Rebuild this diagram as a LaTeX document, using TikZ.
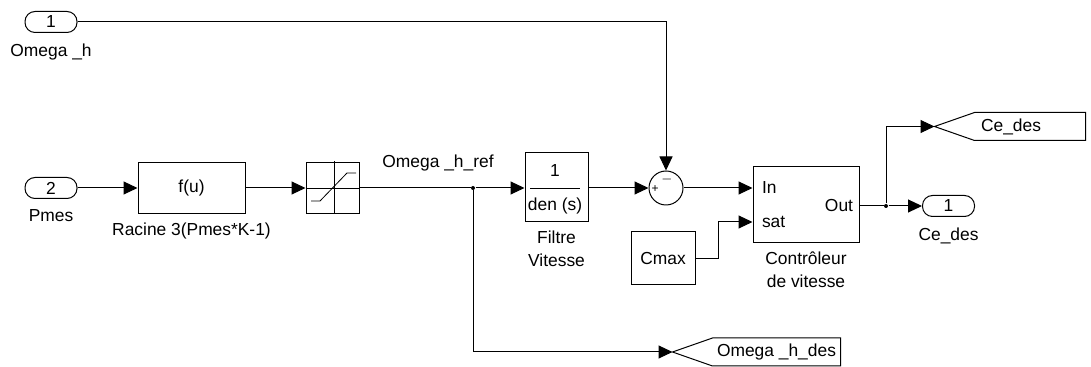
\documentclass[tikz,border=0pt]{standalone}
\usepackage{fontspec}
\setmainfont{Liberation Sans}
\usetikzlibrary{arrows.meta, positioning}

\begin{document}
\begin{tikzpicture}[x=0.5pt, y=-0.5pt, line width=0.5pt,
      >={Triangle[length=7pt,width=6.5pt]},
      every node/.style={font=\fontsize{8.7}{11.5}\selectfont},
      blk/.style={rectangle, draw, inner sep=0pt},
      port/.style={rectangle, draw, rounded corners=5pt, inner sep=0pt,
          minimum width=26pt, minimum height=10.5pt},
      gto/.style={rectangle, inner sep=0pt, minimum height=13.5pt},
      lbl/.style={inner sep=1pt, align=center},
      sgn/.style={inner sep=0pt, font=\fontsize{6}{7}\selectfont},
      jdot/.style={circle, fill, inner sep=0pt, minimum size=2pt}]
    \useasboundingbox (0,0) rectangle (1091,367);

    % entrees
    \node[port] (in1) at (51,22) {1};
    \node[lbl, below=4pt of in1] (in1l) {Omega \_h};
    \node[port] (in2) at (51,188) {2};
    \node[lbl, below=4pt of in2] (in2l) {Pmes};

    % racine et saturation
    \node[blk, minimum width=53.5pt, minimum height=25.5pt] (fu) at (191.5,188) {f(u)};
    \node[lbl, below=3pt of fu] (ful) {Racine 3(Pmes*K-1)};
    \node[blk, minimum width=26.5pt, minimum height=25.5pt] (sat) at (332.5,188) {};
    \draw[line width=0.4pt] (sat.west) -- (sat.east);
    \draw[line width=0.4pt] (334,161) -- (334,213);
    \draw[line width=0.4pt] (311,201) -- (320,201) -- (347,173) -- (356,173);

    \node[lbl] (refl) at (438,163) {Omega \_h\_ref};
    \node[jdot] (br1) at (473,188) {};

    % filtre
    \node[blk, minimum width=31.5pt, minimum height=34.5pt] (filt) at (556.5,187.5) {};
    \node[inner sep=0pt] (fnum) at (555,171) {1};
    \node[inner sep=0pt] (fden) at (555,206) {den (s)};
    \draw[line width=0.4pt] (530,188) -- (580,188);
    \node[lbl, below=3pt of filt] (filtl) {Filtre\\Vitesse};

    % sommateur
    \node[circle, draw, inner sep=0pt, minimum size=17pt] (sum) at (666,188) {};
    \node[sgn] (plus) at (655,189) {+};
    \node[sgn] (minus) at (667,180) {$-$};

    % controleur
    \node[blk, minimum width=53pt, minimum height=38pt] (ctrl) at (806,205) {};
    \node[inner sep=0pt, anchor=west] (pin) at ([xshift=4.5pt]ctrl.west |- sum) {In};
    \coordinate (satp) at (ctrl.west |- 0,222);
    \node[inner sep=0pt, anchor=west] (psat) at ([xshift=4.5pt]satp) {sat};
    \node[inner sep=0pt, anchor=east] (pout) at ([xshift=-3pt]ctrl.east |- 0,206) {Out};
    \node[lbl, below=3pt of ctrl] (ctrll) {Contr\^oleur\\de vitesse};
    \node[blk, minimum width=32pt, minimum height=26.5pt] (cmax) at (663,258.5) {Cmax};

    % sorties
    \node[port] (out1) at (948.5,206) {1};
    \node[lbl, below=4pt of out1] (out1l) {Ce\_des};
    \node[jdot] (br2) at (886,206) {};
    \node[gto, minimum width=55pt, text width=49pt, align=left] (gce) at (1030,126.5) {Ce\_des};
    \draw (gce.north west) -- (gce.north east) -- (gce.south east)
        -- (gce.south west) -- ([xshift=-20pt]gce.west) -- cycle;
    \node[gto, minimum width=63.5pt] (gom) at (776.5,352) {Omega \_h\_des};
    \draw (gom.north west) -- (gom.north east) -- (gom.south east)
        -- (gom.south west) -- ([xshift=-20pt]gom.west) -- cycle;

    % liaisons
    \draw[->] (in1.east) -| (sum.north);
    \draw[->] (in2.east) -- (fu.west);
    \draw[->] (fu.east) -- (sat.west);
    \draw (sat.east) -- (br1);
    \draw[->] (br1) -- (filt.west |- br1);
    \draw[->] (br1) |- ([xshift=-20pt]gom.west);
    \draw[->] (filt.east |- sum) -- (sum.west);
    \draw[->] (sum.east) -- (ctrl.west |- sum);
    \draw[->] (cmax.east) -- ++(23,0) |- (satp);
    \draw (ctrl.east |- br2) -- (br2);
    \draw[->] (br2) -- (out1.west);
    \draw[->] (br2) |- ([xshift=-20pt]gce.west);
  \end{tikzpicture}
\end{document}
